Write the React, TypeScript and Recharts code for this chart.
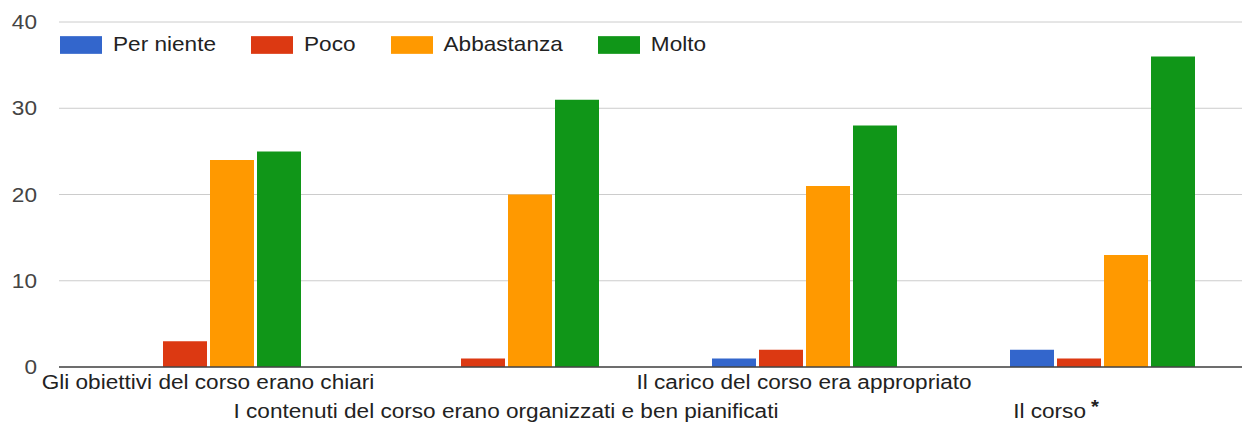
import React from "react";
import { BarChart, Bar, XAxis, YAxis, CartesianGrid } from "recharts";

const categories = [
  "Gli obiettivi del corso erano chiari",
  "I contenuti del corso erano organizzati e ben pianificati",
  "Il carico del corso era appropriato",
  "Il corso *",
];
const perNiente = [0, 0, 1, 2];
const poco = [3, 1, 2, 1];
const abbastanza = [24, 20, 21, 13];
const molto = [25, 31, 28, 36];
const yTicks = [0, 10, 20, 30, 40];

const series = [
  { key: "perNiente", name: "Per niente", color: "#3366cc" },
  { key: "poco", name: "Poco", color: "#dc3912" },
  { key: "abbastanza", name: "Abbastanza", color: "#ff9900" },
  { key: "molto", name: "Molto", color: "#109618" },
];

const data = categories.map((cat, i) => ({
  cat,
  perNiente: perNiente[i],
  poco: poco[i],
  abbastanza: abbastanza[i],
  molto: molto[i],
}));

const FONT = "'Liberation Sans', Arial, sans-serif";
const FS = 22.6;
const SY = 0.885; // source text is a bit stretched sideways

function XTick(props: any) {
  const { x, y, payload, index } = props;
  const label: string = payload.value;
  const row = index % 2;
  const star = label.endsWith(" *");
  const main = star ? label.slice(0, -2) : label;
  // the starred label sits left of its band centre in the original
  const shift = star ? -46 : 0;
  return (
    <g transform={`translate(${x + shift},${y + (row ? 51 : 22)}) scale(1,${SY})`}>
      <text textAnchor="middle" fontFamily={FONT} fontSize={FS} fill="#222">
        {main}
        {star && (
          <tspan fontWeight="bold" dx={5} dy={-6} fontSize={FS * 0.9}>
            *
          </tspan>
        )}
      </text>
    </g>
  );
}

function YTick(props: any) {
  const { y, payload } = props;
  return (
    <g transform={`translate(37,${y + 7}) scale(1,${SY})`}>
      <text textAnchor="end" fontFamily={FONT} fontSize={FS} fill="#444">
        {payload.value}
      </text>
    </g>
  );
}

function LegendBox() {
  return (
    <div
      style={{
        position: "absolute",
        top: 32,
        left: 60,
        display: "flex",
        alignItems: "center",
        fontFamily: FONT,
        fontSize: FS,
        color: "#222",
        transform: `scaleY(${SY})`,
        whiteSpace: "nowrap",
      }}
    >
      {series.map((s) => (
        <div
          key={s.key}
          style={{ display: "flex", alignItems: "center", marginRight: 35 }}
        >
          <span
            style={{
              display: "inline-block",
              width: 42,
              height: 17 / SY,
              background: s.color,
              marginRight: 11,
            }}
          />
          <span>{s.name}</span>
        </div>
      ))}
    </div>
  );
}

export default function App() {
  return (
    <div
      style={{
        position: "relative",
        width: 1242,
        height: 423,
        background: "#fff",
        overflow: "hidden",
      }}
    >
      <style>{"body{margin:0}"}</style>
      <BarChart
        width={1242}
        height={423}
        data={data}
        margin={{ top: 22, right: -9, left: -1, bottom: 0 }}
        barSize={44}
        barGap={3}
      >
        <CartesianGrid vertical={false} stroke="#cccccc" />
        <XAxis
          dataKey="cat"
          height={56}
          tickLine={false}
          tickSize={0}
          tickMargin={0}
          interval={0}
          axisLine={{ stroke: "#444", strokeWidth: 1.5 }}
          tick={<XTick />}
        />
        <YAxis
          width={60}
          domain={[0, 40]}
          ticks={yTicks}
          axisLine={false}
          tickLine={false}
          tick={<YTick />}
        />
        {series.map((s) => (
          <Bar
            key={s.key}
            dataKey={s.key}
            name={s.name}
            fill={s.color}
            isAnimationActive={false}
          />
        ))}
      </BarChart>
      <LegendBox />
    </div>
  );
}
